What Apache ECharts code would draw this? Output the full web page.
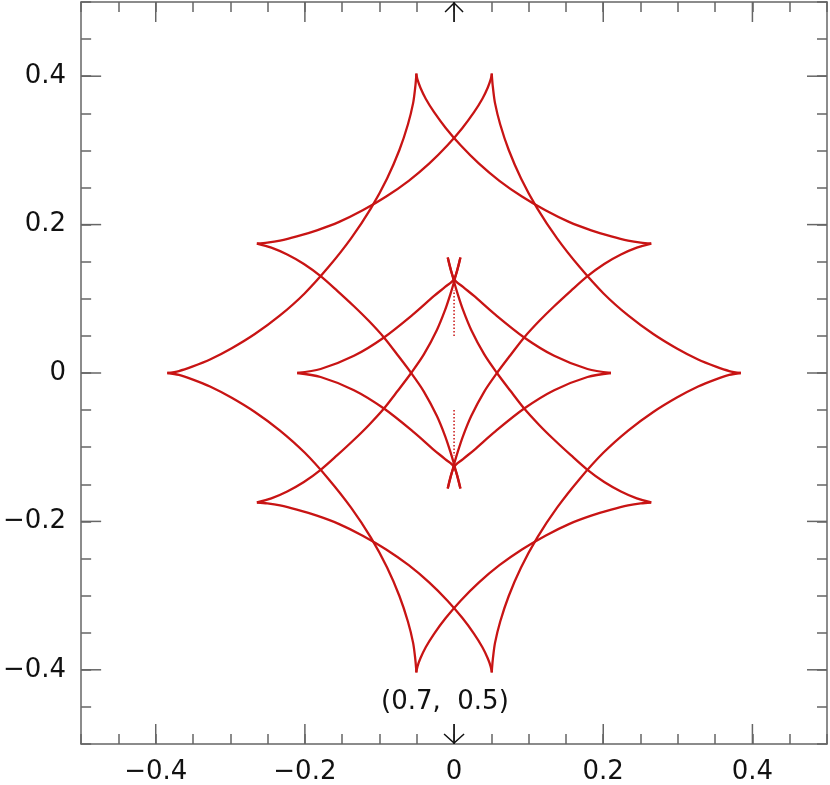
<!DOCTYPE html>
<html>
<head>
<meta charset="utf-8">
<script src="https://cdn.jsdelivr.net/npm/echarts@6/dist/echarts.min.js"></script>
<style>
  html, body { margin: 0; padding: 0; background: #ffffff; }
  #chart { width: 830px; height: 785px; }
</style>
</head>
<body>
<div id="chart"></div>
<script>
// ---- tick labels / annotation ----
const xMajorTicks = [-0.4, -0.2, 0, 0.2, 0.4];
const yMajorTicks = [-0.4, -0.2, 0, 0.2, 0.4];
const arrowX = [0];
const annotationText = '(0.7,  0.5)';

// ---- caustic arcs, curve A ----
const arcL_T1 = [[-0.3845,0],[-0.3689,0.0026],[-0.3510,0.0085],[-0.3272,0.0181],[-0.2987,0.0330],[-0.2671,0.0525],[-0.2338,0.0772],[-0.2004,0.1072],[-0.1684,0.1427],[-0.1381,0.1814],[-0.1115,0.2218],[-0.0898,0.2621],[-0.0733,0.3005],[-0.0619,0.3349],[-0.0549,0.3637],[-0.0520,0.3855],[-0.0508,0.3990],[-0.0506,0.4036]];
const arcT1_UR = [[-0.0506,0.4036],[-0.0504,0.4020],[-0.0490,0.3953],[-0.0451,0.3845],[-0.0380,0.3696],[-0.0268,0.3515],[-0.0112,0.3303],[0.0088,0.3069],[0.0331,0.2825],[0.0608,0.2590],[0.0910,0.2378],[0.1225,0.2192],[0.1540,0.2036],[0.1839,0.1923],[0.2108,0.1842],[0.2333,0.1785],[0.2503,0.1757],[0.2644,0.1745]];
const arcUR_BXL = [[0.2644,0.1745],[0.2450,0.1690],[0.2237,0.1597],[0.2013,0.1470],[0.1789,0.1306],[0.1566,0.1108],[0.1342,0.0900],[0.1141,0.0700],[0.0940,0.0479],[0.0755,0.0240],[0.0575,0],[0.0405,-0.0250],[0.0230,-0.0580],[0.0120,-0.0850],[0.0050,-0.1060],[0,-0.1230],[-0.0085,-0.1557]];
const arcBXL_IR = [[-0.0085,-0.1557],[0,-0.1265],[0.0120,-0.1160],[0.0268,-0.1038],[0.0537,-0.0800],[0.0940,-0.0479],[0.1342,-0.0232],[0.1789,-0.0054],[0.2103,0]];
const arcIR_TXL = [[0.2103,0],[0.1789,0.0054],[0.1342,0.0232],[0.0940,0.0479],[0.0537,0.0800],[0.0268,0.1038],[0.0120,0.1160],[0,0.1265],[-0.0085,0.1557]];
const arcTXL_LR = [[-0.0085,0.1557],[0,0.1230],[0.0050,0.1060],[0.0120,0.0850],[0.0230,0.0580],[0.0405,0.0250],[0.0575,0],[0.0755,-0.0240],[0.0940,-0.0479],[0.1141,-0.0700],[0.1342,-0.0900],[0.1566,-0.1108],[0.1789,-0.1306],[0.2013,-0.1470],[0.2237,-0.1597],[0.2450,-0.1690],[0.2644,-0.1745]];
const arcLR_B1 = [[0.2644,-0.1745],[0.2503,-0.1757],[0.2333,-0.1785],[0.2108,-0.1842],[0.1839,-0.1923],[0.1540,-0.2036],[0.1225,-0.2192],[0.0910,-0.2378],[0.0608,-0.2590],[0.0331,-0.2825],[0.0088,-0.3069],[-0.0112,-0.3303],[-0.0268,-0.3515],[-0.0380,-0.3696],[-0.0451,-0.3845],[-0.0490,-0.3953],[-0.0504,-0.4020],[-0.0506,-0.4036]];
const arcB1_L = [[-0.0506,-0.4036],[-0.0508,-0.3990],[-0.0520,-0.3855],[-0.0549,-0.3637],[-0.0619,-0.3349],[-0.0733,-0.3005],[-0.0898,-0.2621],[-0.1115,-0.2218],[-0.1381,-0.1814],[-0.1684,-0.1427],[-0.2004,-0.1072],[-0.2338,-0.0772],[-0.2671,-0.0525],[-0.2987,-0.0330],[-0.3272,-0.0181],[-0.3510,-0.0085],[-0.3689,-0.0026],[-0.3845,0]];

// ---- curve B ----
const arcR_T2 = [[0.3845,0],[0.3689,0.0026],[0.3510,0.0085],[0.3272,0.0181],[0.2987,0.0330],[0.2671,0.0525],[0.2338,0.0772],[0.2004,0.1072],[0.1684,0.1427],[0.1381,0.1814],[0.1115,0.2218],[0.0898,0.2621],[0.0733,0.3005],[0.0619,0.3349],[0.0549,0.3637],[0.0520,0.3855],[0.0508,0.3990],[0.0506,0.4036]];
const arcT2_UL = [[0.0506,0.4036],[0.0504,0.4020],[0.0490,0.3953],[0.0451,0.3845],[0.0380,0.3696],[0.0268,0.3515],[0.0112,0.3303],[-0.0088,0.3069],[-0.0331,0.2825],[-0.0608,0.2590],[-0.0910,0.2378],[-0.1225,0.2192],[-0.1540,0.2036],[-0.1839,0.1923],[-0.2108,0.1842],[-0.2333,0.1785],[-0.2503,0.1757],[-0.2644,0.1745]];
const arcUL_BXR = [[-0.2644,0.1745],[-0.2450,0.1690],[-0.2237,0.1597],[-0.2013,0.1470],[-0.1789,0.1306],[-0.1566,0.1108],[-0.1342,0.0900],[-0.1141,0.0700],[-0.0940,0.0479],[-0.0755,0.0240],[-0.0575,0],[-0.0405,-0.0250],[-0.0230,-0.0580],[-0.0120,-0.0850],[-0.0050,-0.1060],[0,-0.1230],[0.0085,-0.1557]];
const arcBXR_IL = [[0.0085,-0.1557],[0,-0.1265],[-0.0120,-0.1160],[-0.0268,-0.1038],[-0.0537,-0.0800],[-0.0940,-0.0479],[-0.1342,-0.0232],[-0.1789,-0.0054],[-0.2103,0]];
const arcIL_TXR = [[-0.2103,0],[-0.1789,0.0054],[-0.1342,0.0232],[-0.0940,0.0479],[-0.0537,0.0800],[-0.0268,0.1038],[-0.0120,0.1160],[0,0.1265],[0.0085,0.1557]];
const arcTXR_LL = [[0.0085,0.1557],[0,0.1230],[-0.0050,0.1060],[-0.0120,0.0850],[-0.0230,0.0580],[-0.0405,0.0250],[-0.0575,0],[-0.0755,-0.0240],[-0.0940,-0.0479],[-0.1141,-0.0700],[-0.1342,-0.0900],[-0.1566,-0.1108],[-0.1789,-0.1306],[-0.2013,-0.1470],[-0.2237,-0.1597],[-0.2450,-0.1690],[-0.2644,-0.1745]];
const arcLL_B2 = [[-0.2644,-0.1745],[-0.2503,-0.1757],[-0.2333,-0.1785],[-0.2108,-0.1842],[-0.1839,-0.1923],[-0.1540,-0.2036],[-0.1225,-0.2192],[-0.0910,-0.2378],[-0.0608,-0.2590],[-0.0331,-0.2825],[-0.0088,-0.3069],[0.0112,-0.3303],[0.0268,-0.3515],[0.0380,-0.3696],[0.0451,-0.3845],[0.0490,-0.3953],[0.0504,-0.4020],[0.0506,-0.4036]];
const arcB2_R = [[0.0506,-0.4036],[0.0508,-0.3990],[0.0520,-0.3855],[0.0549,-0.3637],[0.0619,-0.3349],[0.0733,-0.3005],[0.0898,-0.2621],[0.1115,-0.2218],[0.1381,-0.1814],[0.1684,-0.1427],[0.2004,-0.1072],[0.2338,-0.0772],[0.2671,-0.0525],[0.2987,-0.0330],[0.3272,-0.0181],[0.3510,-0.0085],[0.3689,-0.0026],[0.3845,0]];

// ---- dotted numerical streaks on the axis ----
const dotUpper = [[0,0.050],[0,0.112]];
const dotLower = [[0,-0.050],[0,-0.112]];

const arcs = [arcL_T1, arcT1_UR, arcUR_BXL, arcBXL_IR, arcIR_TXL, arcTXL_LR, arcLR_B1, arcB1_L,
              arcR_T2, arcT2_UL, arcUL_BXR, arcBXR_IL, arcIL_TXR, arcTXR_LL, arcLL_B2, arcB2_R];

const FONT = 'DejaVu Sans';
const AXIS_COLOR = '#666666';
const CURVE_COLOR = '#c81414';

function tickLabel(v) {
  const k = Math.round(v * 5);
  if (Math.abs(v * 5 - k) > 1e-6) return '';
  if (k === 0) return '0';
  return (v < 0 ? '\u2212' : '') + Math.abs(v).toFixed(1);
}

function makeAxis(position, showLabel) {
  return {
    type: 'value', position: position, min: -0.5, max: 0.5, interval: 0.05,
    axisLine: { show: true, onZero: false, lineStyle: { color: AXIS_COLOR, width: 1.5 } },
    axisTick: { show: true, inside: true, length: 10, lineStyle: { color: AXIS_COLOR, width: 1.5 } },
    axisLabel: { show: showLabel, formatter: tickLabel, fontFamily: FONT, fontSize: 26, color: '#111', margin: 15,
                 showMinLabel: true, showMaxLabel: true, hideOverlap: false },
    splitLine: { show: false }
  };
}

const series = arcs.map(a => ({
  type: 'line', data: a, xAxisIndex: 0, yAxisIndex: 0, smooth: 0.3,
  symbol: 'none', lineStyle: { color: CURVE_COLOR, width: 2.3 }, silent: true, z: 3
}));

series.push({ type: 'line', data: dotUpper, symbol: 'none', lineStyle: { color: CURVE_COLOR, width: 1.5, type: [1.5, 2] }, silent: true });
series.push({ type: 'line', data: dotLower, symbol: 'none', lineStyle: { color: CURVE_COLOR, width: 1.5, type: [1.5, 2] }, silent: true });

// longer major ticks on all four sides
series.push({
  type: 'custom', xAxisIndex: 0, yAxisIndex: 0, silent: true, clip: false, z: 5,
  data: xMajorTicks.map(v => [v, 0]),
  renderItem: function (params, api) {
    const b = api.coord([api.value(0), -0.5]);
    const t = api.coord([api.value(0), 0.5]);
    const st = { stroke: AXIS_COLOR, lineWidth: 1.5 };
    return { type: 'group', children: [
      { type: 'line', shape: { x1: b[0], y1: b[1], x2: b[0], y2: b[1] - 20 }, style: st },
      { type: 'line', shape: { x1: t[0], y1: t[1], x2: t[0], y2: t[1] + 20 }, style: st }
    ]};
  }
});
series.push({
  type: 'custom', xAxisIndex: 0, yAxisIndex: 0, silent: true, clip: false, z: 5,
  data: yMajorTicks.map(v => [0, v]),
  renderItem: function (params, api) {
    const l = api.coord([-0.5, api.value(1)]);
    const r = api.coord([0.5, api.value(1)]);
    const st = { stroke: AXIS_COLOR, lineWidth: 1.5 };
    return { type: 'group', children: [
      { type: 'line', shape: { x1: l[0], y1: l[1], x2: l[0] + 20, y2: l[1] }, style: st },
      { type: 'line', shape: { x1: r[0], y1: r[1], x2: r[0] - 20, y2: r[1] }, style: st }
    ]};
  }
});
// arrows marking the symmetry axis at top and bottom
series.push({
  type: 'custom', xAxisIndex: 0, yAxisIndex: 0, silent: true, clip: false, z: 6,
  data: arrowX.map(v => [v, 0]),
  renderItem: function (params, api) {
    const t = api.coord([api.value(0), 0.5]);
    const b = api.coord([api.value(0), -0.5]);
    const st = { stroke: '#111', lineWidth: 1.5, fill: 'none' };
    return { type: 'group', children: [
      { type: 'polyline', shape: { points: [[t[0] - 9, t[1] + 10], [t[0], t[1] + 1], [t[0] + 9, t[1] + 10]] }, style: st },
      { type: 'line', shape: { x1: t[0], y1: t[1], x2: t[0], y2: t[1] + 20 }, style: st },
      { type: 'polyline', shape: { points: [[b[0] - 10, b[1] - 10], [b[0], b[1] - 1], [b[0] + 10, b[1] - 10]] }, style: st },
      { type: 'line', shape: { x1: b[0], y1: b[1], x2: b[0], y2: b[1] - 20 }, style: st }
    ]};
  }
});

const chart = echarts.init(document.getElementById('chart'), null, { renderer: 'canvas' });
chart.setOption({
  animation: false,
  backgroundColor: '#ffffff',
  grid: { left: 81, top: 2, width: 746, height: 744, containLabel: false },
  xAxis: [makeAxis('bottom', true), makeAxis('top', false)],
  yAxis: [makeAxis('left', true), makeAxis('right', false)],
  graphic: [{
    type: 'text', left: 381, top: 689, silent: true,
    style: { text: annotationText, fontFamily: FONT, fontSize: 26, fill: '#111' }
  }],
  series: series
});
</script>
</body>
</html>
